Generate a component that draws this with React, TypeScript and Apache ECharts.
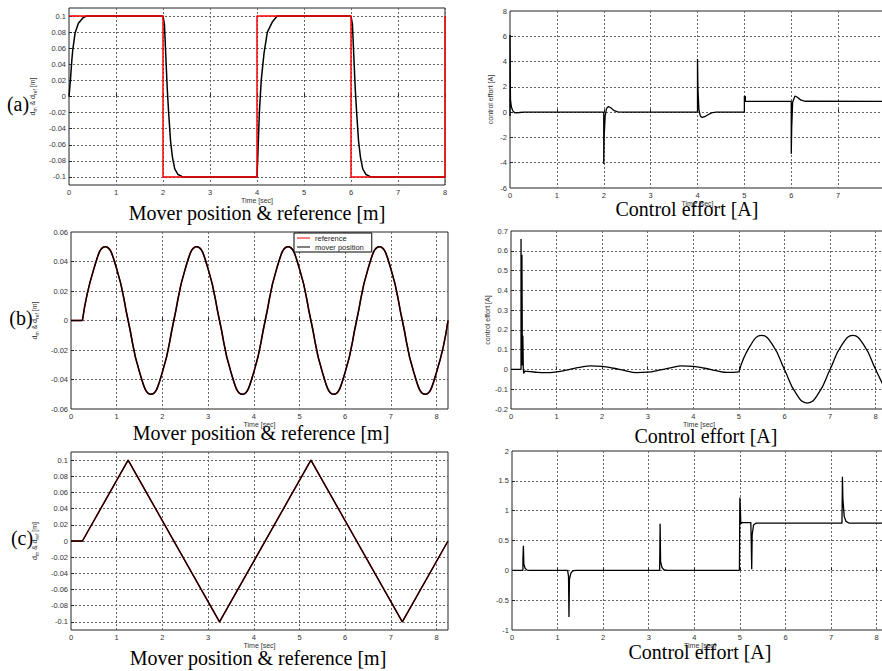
import React, { useEffect, useRef } from 'react';
import * as echarts from 'echarts';

// ---- tick values ----
const timeLabels = [0, 1, 2, 3, 4, 5, 6, 7, 8];
const timeLabelsA = [0, 1, 2, 3, 4, 5, 6, 7];
const timeTicks = [1, 2, 3, 4, 5, 6, 7, 8];
const posLabels = [-0.1, -0.08, -0.06, -0.04, -0.02, 0, 0.02, 0.04, 0.06, 0.08, 0.1];
const posLabelsB = [-0.06, -0.04, -0.02, 0, 0.02, 0.04, 0.06];
const posTicksB = [-0.04, -0.02, 0, 0.02, 0.04];
const effortLabelsA = [-6, -4, -2, 0, 2, 4, 6, 8];
const effortTicksA = [-4, -2, 0, 2, 4, 6];
const effortLabelsB = [-0.2, -0.1, 0, 0.1, 0.2, 0.3, 0.4, 0.5, 0.6, 0.7];
const effortTicksB = [-0.1, 0, 0.1, 0.2, 0.3, 0.4, 0.5, 0.6];
const effortLabelsC = [-1, -0.5, 0, 0.5, 1, 1.5, 2];
const effortTicksC = [-0.5, 0, 0.5, 1, 1.5];

// ---- (a) square-wave reference ----
const aRef = [[0, 0.1], [2, 0.1], [2, -0.1], [4, -0.1], [4, 0.1], [6, 0.1], [6, -0.1], [8, -0.1], [8, 0.1]];
const aMover = [
  [0, 0], [0.03, 0.02], [0.06, 0.045], [0.08, 0.058], [0.13, 0.079], [0.2, 0.091], [0.3, 0.098], [0.38, 0.1],
  [2, 0.1], [2.03, 0.09], [2.06, 0.05], [2.09, 0.01], [2.12, -0.02], [2.16, -0.055], [2.2, -0.075], [2.25, -0.09], [2.32, -0.097], [2.42, -0.1],
  [4, -0.1], [4.02, -0.07], [4.05, -0.02], [4.09, 0.02], [4.15, 0.054], [4.22, 0.08], [4.33, 0.093], [4.43, 0.1],
  [6, 0.1], [6.03, 0.09], [6.06, 0.05], [6.09, 0.01], [6.12, -0.02], [6.16, -0.055], [6.2, -0.075], [6.25, -0.09], [6.32, -0.097], [6.42, -0.1],
  [8, -0.1],
];
const aEffort = [
  [0, -0.3], [0, 6.1], [0.01, 6.1], [0.01, 1.0], [0.03, 0.4], [0.06, 0.1], [0.1, -0.05], [0.2, -0.03], [0.3, 0],
  [2, 0], [2, -4.1], [2.01, -4.1], [2.01, -1.8], [2.03, -0.3], [2.06, 0.3], [2.1, 0.45], [2.15, 0.35], [2.22, 0.12], [2.3, 0.02], [2.4, 0],
  [4, 0], [4, 4.2], [4.01, 4.2], [4.01, 1.8], [4.03, 0.2], [4.06, -0.3], [4.1, -0.42], [4.17, -0.33], [4.25, -0.15], [4.32, -0.03], [4.4, 0],
  [5, 0], [5, 1.25], [5.02, 1.25], [5.02, 0.85],
  [6, 0.85], [6, -3.3], [6.01, -3.3], [6.01, -1.2], [6.03, 0.8], [6.08, 1.28], [6.13, 1.18], [6.2, 0.97], [6.3, 0.86], [8, 0.85],
];

// ---- (b) sine reference (flat start, then wave) ----
const bStart = [[0, 0], [0.25, 0]];
const bRef = [
  [0.25, 0], [0.5, 0.035], [0.75, 0.05], [1, 0.035], [1.25, 0], [1.5, -0.035], [1.75, -0.05], [2, -0.035],
  [2.25, 0], [2.5, 0.035], [2.75, 0.05], [3, 0.035], [3.25, 0], [3.5, -0.035], [3.75, -0.05], [4, -0.035],
  [4.25, 0], [4.5, 0.035], [4.75, 0.05], [5, 0.035], [5.25, 0], [5.5, -0.035], [5.75, -0.05], [6, -0.035],
  [6.25, 0], [6.5, 0.035], [6.75, 0.05], [7, 0.035], [7.25, 0], [7.5, -0.035], [7.75, -0.05], [8, -0.035], [8.25, 0],
];
const bMover = [
  [0.25, 0], [0.5, 0.035], [0.75, 0.05], [1, 0.035], [1.25, 0], [1.5, -0.035], [1.75, -0.05], [2, -0.035],
  [2.25, 0], [2.5, 0.035], [2.75, 0.05], [3, 0.035], [3.25, 0], [3.5, -0.035], [3.75, -0.05], [4, -0.035],
  [4.25, 0], [4.5, 0.035], [4.75, 0.05], [5, 0.035], [5.25, 0], [5.5, -0.035], [5.75, -0.05], [6, -0.035],
  [6.25, 0], [6.5, 0.035], [6.75, 0.05], [7, 0.035], [7.25, 0], [7.5, -0.035], [7.75, -0.05], [8, -0.035], [8.25, 0],
];
const bEffortStart = [
  [0, 0], [0.22, 0], [0.22, 0.66], [0.23, 0.66], [0.23, 0.02], [0.24, 0.58], [0.25, 0.58], [0.25, 0.02],
  [0.26, 0.17], [0.27, 0], [0.28, -0.02], [0.3, -0.008], [0.35, -0.01],
];
const bEffortSmall = [
  [0.35, -0.01], [0.5, -0.013], [0.75, -0.016], [1, -0.012], [1.25, -0.002], [1.5, 0.01], [1.75, 0.018], [2, 0.016],
  [2.25, 0.006], [2.5, -0.006], [2.75, -0.016], [3, -0.014], [3.25, -0.004], [3.5, 0.008], [3.75, 0.018], [4, 0.016],
  [4.25, 0.006], [4.5, -0.006], [4.75, -0.015], [5, -0.012],
];
const bEffortLarge = [
  [5, -0.012], [5.25, 0.12], [5.5, 0.172], [5.75, 0.12], [6, 0],
  [6.25, -0.12], [6.5, -0.17], [6.75, -0.12], [7, 0], [7.25, 0.12], [7.5, 0.172], [7.75, 0.12], [8, 0], [8.25, -0.12],
];

// ---- (c) triangle reference ----
const cRef = [[0, 0], [0.25, 0], [1.25, 0.1], [3.25, -0.1], [5.25, 0.1], [7.25, -0.1], [8.25, 0]];
const cMover = [[0, 0], [0.25, 0], [1.25, 0.1], [3.25, -0.1], [5.25, 0.1], [7.25, -0.1], [8.25, 0]];
const cEffort = [
  [0, 0], [0.24, 0], [0.24, 0.2], [0.25, 0.2], [0.25, 0.41], [0.26, 0.41], [0.26, 0.1], [0.29, 0.03], [0.33, 0.005], [0.4, 0],
  [1.22, 0], [1.24, -0.1], [1.25, -0.1], [1.25, -0.78], [1.26, -0.78], [1.26, -0.15], [1.29, -0.05], [1.33, -0.01], [1.4, 0],
  [3.24, 0], [3.25, 0.78], [3.26, 0.78], [3.26, 0.15], [3.29, 0.05], [3.33, 0.01], [3.4, 0],
  [4.99, 0], [5, 1.22], [5.01, 1.22], [5.01, 1.05], [5.02, 0.78], [5.05, 0.8], [5.24, 0.8], [5.25, 0.45], [5.26, 0.02],
  [5.27, 0.6], [5.3, 0.76], [5.35, 0.79],
  [7.24, 0.79], [7.25, 1.57], [7.26, 1.57], [7.26, 1.2], [7.29, 0.9], [7.33, 0.82], [7.4, 0.79], [8.25, 0.79],
];

const serif = 'Liberation Serif, Times New Roman, serif';
const sans = 'Liberation Sans, Arial, sans-serif';
const fmt = (v: number) => String(parseFloat(Number(v).toFixed(4)));

function xAxis(gridIndex: number, max: number, labels: number[], nameGap: number) {
  return {
    type: 'value', gridIndex, min: 0, max,
    axisLine: { show: false },
    axisTick: { customValues: timeTicks, inside: true, length: 3, lineStyle: { color: '#222' } },
    axisLabel: { customValues: labels, fontSize: 7.5, color: '#333', margin: 3, fontFamily: sans, formatter: fmt },
    splitLine: { show: true, lineStyle: { type: [2, 2], color: '#666', width: 1 } },
    name: 'Time [sec]', nameLocation: 'middle', nameGap,
    nameTextStyle: { fontSize: 7, color: '#333', fontFamily: sans },
  };
}

function yAxis(gridIndex: number, min: number, max: number, labels: number[], ticks: number[], name: any, nameGap: number, rich?: any) {
  return {
    type: 'value', gridIndex, min, max,
    axisLine: { show: false },
    axisTick: { customValues: ticks, inside: true, length: 3, lineStyle: { color: '#222' } },
    axisLabel: { customValues: labels, fontSize: 7.5, color: '#333', margin: 3, fontFamily: sans, formatter: fmt },
    splitLine: { show: true, lineStyle: { type: [2, 2], color: '#666', width: 1 } },
    name, nameLocation: 'middle', nameGap, nameRotate: 90,
    nameTextStyle: { fontSize: 7, color: '#333', fontFamily: sans, rich },
  };
}

const dRich = {
  t: { fontSize: 7, color: '#333', fontFamily: sans, lineHeight: 9 },
  s: { fontSize: 5, color: '#333', fontFamily: sans, lineHeight: 5, padding: [4, 0, 0, 0] },
};
const dName = '{t|d}{s|m}{t| & d}{s|ref}{t| [m]}';

function line(name: string, data: number[][], xi: number, color: string, width: number, smooth = false) {
  return {
    type: 'line', name, data, xAxisIndex: xi, yAxisIndex: xi, color,
    showSymbol: false, symbol: 'none', smooth, animation: false,
    lineStyle: { color, width },
  };
}

function title(text: string, x: number, y: number) {
  return {
    type: 'text', x, y,
    style: { text, fontSize: 20, fontFamily: serif, fill: '#000', align: 'center', verticalAlign: 'middle' },
  };
}

export default function App() {
  const ref = useRef<HTMLDivElement>(null);
  useEffect(() => {
    if (!ref.current) return;
    const chart = echarts.init(ref.current, null, { renderer: 'svg' });
    const gridStyle = { show: true, borderColor: '#222', borderWidth: 1, backgroundColor: '#fff', containLabel: false };
    chart.setOption({
      animation: false,
      backgroundColor: '#fff',
      grid: [
        { ...gridStyle, left: 69, top: 8, width: 376, height: 177 },
        { ...gridStyle, left: 510, top: 11, width: 375, height: 177 },
        { ...gridStyle, left: 71, top: 232, width: 377, height: 177 },
        { ...gridStyle, left: 511, top: 231, width: 376, height: 178 },
        { ...gridStyle, left: 71, top: 452, width: 377, height: 178 },
        { ...gridStyle, left: 512, top: 451, width: 376, height: 179 },
      ],
      xAxis: [
        xAxis(0, 8, timeLabels, 8), xAxis(1, 8, timeLabelsA, 10), xAxis(2, 8.25, timeLabels, 8),
        xAxis(3, 8.25, timeLabels, 10), xAxis(4, 8.25, timeLabels, 9), xAxis(5, 8.25, timeLabels, 10),
      ],
      yAxis: [
        yAxis(0, -0.11, 0.11, posLabels, posLabels, dName, 32, dRich),
        yAxis(1, -6, 8, effortLabelsA, effortTicksA, 'control effort [A]', 16),
        yAxis(2, -0.06, 0.06, posLabelsB, posTicksB, dName, 32, dRich),
        yAxis(3, -0.2, 0.7, effortLabelsB, effortTicksB, 'control effort [A]', 18),
        yAxis(4, -0.11, 0.11, posLabels, posLabels, dName, 32, dRich),
        yAxis(5, -1, 2, effortLabelsC, effortTicksC, '', 16),
      ],
      legend: {
        show: true,
        data: [{ name: 'reference', icon: 'rect' }, { name: 'mover position', icon: 'rect' }],
        orient: 'vertical', left: 294, top: 233,
        itemWidth: 13, itemHeight: 1, itemGap: 1,
        padding: [1, 8, 1, 3],
        borderColor: '#000', borderWidth: 1, backgroundColor: '#fff',
        textStyle: { fontSize: 7.5, color: '#222', fontFamily: sans, lineHeight: 7 },
        selectedMode: false,
      },
      series: [
        line('mover a', aMover, 0, '#000', 1.5),
        line('reference a', aRef, 0, '#ff0000', 1.5),
        line('effort a', aEffort, 1, '#000', 1.3),
        line('reference', bStart, 2, '#ff0000', 1.5),
        line('reference', bRef, 2, '#ff0000', 1.5, true),
        line('mover position', bStart, 2, '#000', 1.5),
        line('mover position', bMover, 2, '#000', 1.5, true),
        line('effort b start', bEffortStart, 3, '#000', 1.3),
        line('effort b small', bEffortSmall, 3, '#000', 1.3, true),
        line('effort b large', bEffortLarge, 3, '#000', 1.3, true),
        line('reference c', cRef, 4, '#ff0000', 1.5),
        line('mover c', cMover, 4, '#000', 1.3),
        line('effort c', cEffort, 5, '#000', 1.3),
      ],
      graphic: [
        title('Mover position & reference [m]', 257, 213),
        title('Control effort [A]', 687, 209),
        title('Mover position & reference [m]', 261, 433),
        title('Control effort [A]', 706, 436),
        title('Mover position & reference [m]', 258, 658),
        title('Control effort [A]', 700, 652),
        title('(a)', 18, 104),
        title('(b)', 21, 318),
        title('(c)', 22, 538),
      ],
    });
    return () => chart.dispose();
  }, []);
  return (
    <div style={{ position: 'fixed', left: 0, top: 0, width: 882, height: 671, overflow: 'hidden', background: '#fff' }}>
      <div ref={ref} style={{ width: 900, height: 671 }} />
    </div>
  );
}
